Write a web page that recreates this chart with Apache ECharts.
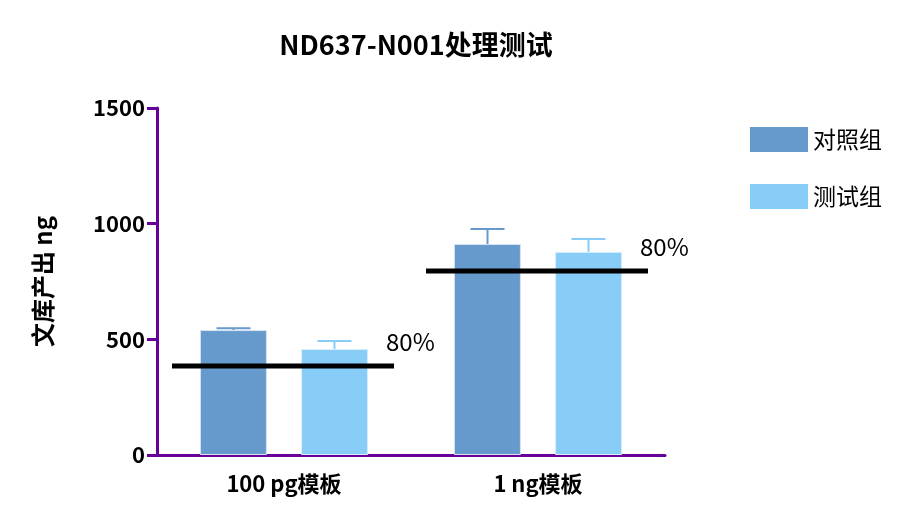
<!DOCTYPE html>
<html>
<head>
<meta charset="utf-8">
<script src="https://cdn.jsdelivr.net/npm/echarts@6/dist/echarts.min.js"></script>
<style>html,body{margin:0;background:#fff}#c{width:921px;height:516px}</style>
</head>
<body>
<div id="c"></div>
<script>
// 数据
const categories = ['100 pg模板', '1 ng模板'];
const controlMean = [540, 912];
const controlErr = [548, 977];
const testMean = [458, 878];
const testErr = [493, 934];
const threshold = [385, 795];
const thresholdLabel = ['80%', '80%'];

const font = '"Noto Sans CJK SC", "Noto Sans", sans-serif';
const axisColor = '#660099';
const c1 = '#6699cc', c2 = '#88ccf8';

const chart = echarts.init(document.getElementById('c'));

// 误差线
function errBar(offset, color) {
  return function (params, api) {
    const i = api.value(0);
    const top = api.coord([i, api.value(1)]);
    const base = api.coord([i, api.value(2)]);
    const x = top[0] + offset;
    return {
      type: 'group',
      children: [
        { type: 'line', shape: { x1: x, y1: base[1], x2: x, y2: top[1] }, style: { stroke: color, lineWidth: 2 } },
        { type: 'line', shape: { x1: x - 17, y1: top[1], x2: x + 17, y2: top[1] }, style: { stroke: color, lineWidth: 2 } }
      ]
    };
  };
}

const option = {
  animation: false,
  title: {
    text: 'ND637-N001处理测试', left: 411, top: 26, textAlign: 'center',
    textStyle: { fontFamily: font, fontSize: 27, fontWeight: 'bold', color: '#000' }
  },
  legend: {
    orient: 'vertical', left: 745, top: 122, itemWidth: 58, itemHeight: 25, itemGap: 32,
    icon: 'rect',
    itemStyle: { borderWidth: 0 },
    textStyle: { fontFamily: font, fontSize: 23, color: '#000' },
    data: ['对照组', '测试组']
  },
  grid: { left: 157, right: 256, top: 108, bottom: 61 },
  xAxis: {
    type: 'category', data: categories,
    axisLine: { lineStyle: { color: axisColor, width: 3 } },
    axisTick: { alignWithLabel: true, length: 10, lineStyle: { color: axisColor, width: 3 } },
    axisLabel: { fontFamily: font, fontSize: 22, fontWeight: 'bold', color: '#000', margin: 18 }
  },
  yAxis: {
    type: 'value', min: 0, max: 1500, interval: 500,
    name: '文库产出 ng', nameLocation: 'middle', nameGap: 102,
    nameTextStyle: { fontFamily: font, fontSize: 24, fontWeight: 'bold', color: '#000' },
    splitLine: { show: false },
    axisLine: { show: true, lineStyle: { color: axisColor, width: 3 } },
    axisTick: { show: true, length: 10, lineStyle: { color: axisColor, width: 3 } },
    axisLabel: { fontFamily: font, fontSize: 22, fontWeight: 'bold', color: '#000', margin: 12,
      formatter: v => String(v) }
  },
  series: [
    { name: '对照组', type: 'bar', data: controlMean, barWidth: 67, barGap: '51%',
      itemStyle: { color: c1, borderColor: '#d6e4f2', borderWidth: 1 } },
    { name: '测试组', type: 'bar', data: testMean, barWidth: 67,
      itemStyle: { color: c2, borderColor: '#d6effd', borderWidth: 1 } },
    { type: 'custom', renderItem: errBar(-50.5, c1), z: 1,
      data: categories.map((_, i) => [i, controlErr[i], controlMean[i]]) },
    { type: 'custom', renderItem: errBar(50.5, c2), z: 1,
      data: categories.map((_, i) => [i, testErr[i], testMean[i]]) },
    { type: 'custom', z: 5,
      renderItem: function (params, api) {
        const p = api.coord([api.value(0), api.value(1)]);
        const x2 = p[0] + 110;
        return {
          type: 'group',
          children: [
            { type: 'line', shape: { x1: p[0] - 112, y1: p[1], x2: x2, y2: p[1] }, style: { stroke: '#000', lineWidth: 5 } },
            { type: 'text', style: { x: x2 - 8, y: p[1] - 12, text: thresholdLabel[api.value(0)], fill: '#000',
              font: '24px ' + font, textVerticalAlign: 'bottom' } }
          ]
        };
      },
      data: categories.map((_, i) => [i, threshold[i]]) }
  ]
};
chart.setOption(option);
</script>
</body>
</html>
